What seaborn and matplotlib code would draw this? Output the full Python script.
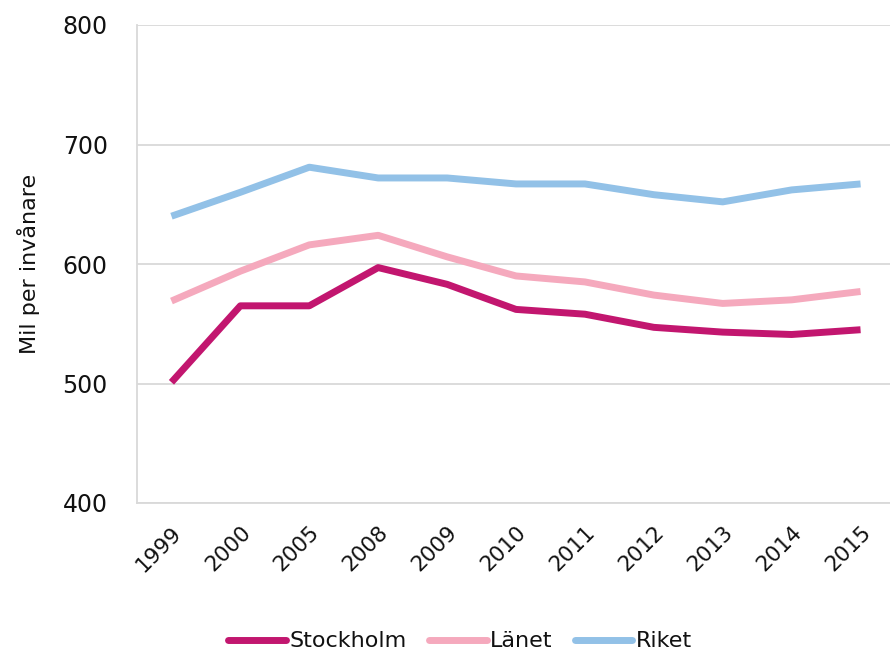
import numpy as np
import pandas as pd
import seaborn as sns
from matplotlib import pyplot as plt

# data
years = ['1999', '2000', '2005', '2008', '2009', '2010', '2011', '2012', '2013', '2014', '2015']
stockholm = [501, 565, 565, 597, 583, 562, 558, 547, 543, 541, 545]
lanet = [569, 594, 616, 624, 606, 590, 585, 574, 567, 570, 577]
riket = [640, 660, 681, 672, 672, 667, 667, 658, 652, 662, 667]
series = ['Stockholm', 'Länet', 'Riket']
colors = ['#C2166F', '#F5A9BD', '#92C1E7']

df = pd.DataFrame({
    'år': years * 3,
    'värde': stockholm + lanet + riket,
    'serie': np.repeat(series, len(years)),
})

sns.set_style('white')
plt.rcParams['font.family'] = ['DejaVu Sans']

fig = plt.figure(figsize=(8.9, 6.55), dpi=100)
ax = fig.add_axes([137 / 890, 152 / 655, 758 / 890, 478 / 655])

sns.lineplot(data=df, x='år', y='värde', hue='serie', palette=colors,
             linewidth=5, sort=False, ax=ax, legend=False)
for ln in ax.lines:
    ln.set_solid_capstyle('butt')

ax.set_ylim(400, 800)
ax.set_xlim(-0.5, len(years) - 0.5)
ax.set_yticks([400, 500, 600, 700, 800])
ax.grid(axis='y', color='#D9D9D9', linewidth=1.3)
ax.set_axisbelow(True)
for s in ['top', 'right']:
    ax.spines[s].set_visible(False)
for s in ['left', 'bottom']:
    ax.spines[s].set_color('#D9D9D9')
    ax.spines[s].set_linewidth(1.3)

ax.tick_params(axis='y', length=0, pad=21, labelsize=17, labelcolor='#111111')
ax.tick_params(axis='x', length=0, pad=14, labelsize=15.5, labelcolor='#111111')
plt.setp(ax.get_xticklabels(), rotation=45, ha='right', rotation_mode='anchor')
ax.set_xlabel('')
ax.set_ylabel('Mil per invånare', fontsize=16, labelpad=16, color='#111111')

handles = [plt.Line2D([], [], color=c, lw=5, solid_capstyle='round') for c in colors]
fig.legend(handles, series, loc='lower center', bbox_to_anchor=(460 / 890, -0.025),
           ncol=3, frameon=False, fontsize=16, handlelength=2.6,
           handletextpad=0.15, columnspacing=1.0, labelcolor='#111111')

plt.savefig('out.png', dpi=100)
